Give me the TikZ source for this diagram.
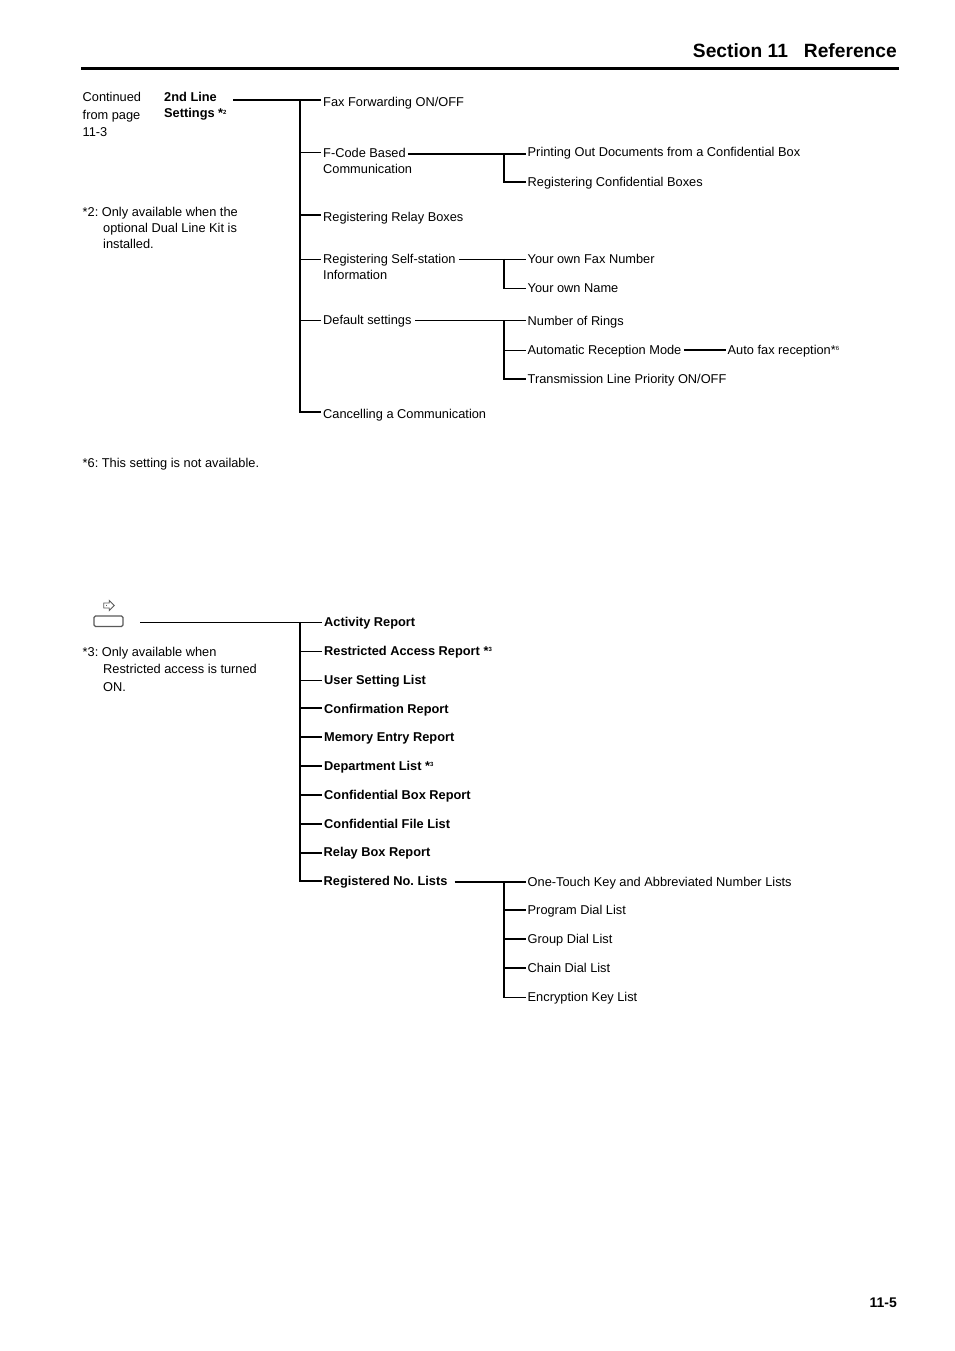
\documentclass[tikz,border=0pt]{standalone}
\usepackage{fontspec}
\setmainfont{Liberation Sans}
\frenchspacing
\tikzset{
  x=1pt,y=-1pt,
  lab/.style={anchor=base west,inner ysep=0pt,inner xsep=2pt,font=\fontsize{12.8}{16}\selectfont,text=black},
  labb/.style={lab,font=\fontsize{12.8}{16}\selectfont\bfseries},
  free/.style={anchor=base west,inner sep=0pt,font=\fontsize{12.8}{16}\selectfont,align=left,text=black},
  thinl/.style={line width=1pt,black},
  thickl/.style={line width=2pt,black},
  spine/.style={line width=2pt,black,shorten <=-.5pt,shorten >=-.9pt},
}
\newcommand{\nt}[1]{*{\fontsize{6}{6}\selectfont\raisebox{3.2pt}{#1}}}
\begin{document}
\begin{tikzpicture}
\useasboundingbox (0,0) rectangle (954,1351);
% header
\node[free,font=\fontsize{19.2}{22}\selectfont\bfseries,anchor=base east] (title) at (897,57.5) {Section 11\hspace{16pt}Reference};
\coordinate (ruleL) at (81,68.3); \coordinate (ruleR) at (899,68.3);
\draw[line width=3pt] (ruleL) -- (ruleR);
\node[free,font=\fontsize{14}{16}\selectfont\bfseries,anchor=base east] (pageno) at (897,1307) {11-5};

% left notes
\node[free] (c1) at (82.5,101.5) {Continued};
\node[free] (c2) at (82.5,119.5) {from page};
\node[free] (c3) at (82.5,137) {11-3};
\node[labb,inner xsep=0pt] (r1a) at (164,101.5) {2nd Line};
\node[labb,inner xsep=0pt] (r1b) at (164,117.5) {Settings \nt{2}};
\node[free] (n2a) at (82.5,216) {*2: Only available when the};
\node[free] (n2b) at (103,232) {optional Dual Line Kit is};
\node[free] (n2c) at (103,248) {installed.};
\node[free] (n6) at (82.5,467) {*6: This setting is not available.};
\node[free] (n3a) at (82.5,656) {*3: Only available when};
\node[free] (n3b) at (103,673) {Restricted access is turned};
\node[free] (n3c) at (103,691) {ON.};

% level 2, upper tree
\node[lab] (a1) at (321,107) {Fax Forwarding ON/OFF};
\node[lab] (a2) at (321,157.5) {F-Code Based};
\node[lab] (a2b) at (321,173.5) {Communication};
\node[lab] (a3) at (321,221) {Registering Relay Boxes};
\node[lab] (a4) at (321,263) {Registering Self-station};
\node[lab] (a4b) at (321,279) {Information};
\node[lab] (a5) at (321,324) {Default settings};
\node[lab] (a6) at (321,418) {Cancelling a Communication};
% level 3, upper tree
\node[lab] (b1) at (525.5,157) {Printing Out Documents from a Confidential Box};
\node[lab] (b2) at (525.5,186.5) {Registering Confidential Boxes};
\node[lab] (b3) at (525.5,263) {Your own Fax Number};
\node[lab] (b4) at (525.5,292) {Your own Name};
\node[lab] (b5) at (525.5,325) {Number of Rings};
\node[lab] (b6) at (525.5,354) {Automatic Reception Mode};
\node[lab] (b7) at (525.5,383) {Transmission Line Priority ON/OFF};
\node[lab] (b8) at (725.5,354) {Auto fax reception\nt{6}};

% upper tree connectors
\coordinate (s1) at (299.5,100);
\coordinate (s2) at (299.5,153);
\coordinate (s3) at (299.5,215);
\coordinate (s4) at (299.5,259);
\coordinate (s5) at (299.5,320);
\coordinate (s6) at (299.5,412);
\coordinate (r1) at (233,100);
\draw[thickl] (r1) -- (s1) -- (s1 -| a1.west);
\draw[spine] (s1) -- (s6);
\draw[thinl] (s2) -- (s2 -| a2.west);
\draw[thickl] (s3) -- (s3 -| a3.west);
\draw[thinl] (s4) -- (s4 -| a4.west);
\draw[thinl] (s5) -- (s5 -| a5.west);
\draw[thickl] (s6) -- (s6 -| a6.west);
% F-code
\coordinate (u1) at (503.5,154); \coordinate (u2) at (503.5,182);
\draw[thickl] (u1 -| a2.east) -- (u1 -| b1.west);
\draw[spine] (u1) -- (u2);
\draw[thickl] (u2) -- (u2 -| b2.west);
% self station
\coordinate (u3) at (503.5,259.3); \coordinate (u4) at (503.5,288);
\draw[thinl] ([xshift=1.5pt]u3 -| a4.east) -- (u3 -| b3.west);
\draw[spine] (u3) -- (u4);
\draw[thinl] (u4) -- (u4 -| b4.west);
% default
\coordinate (u5) at (503.5,320.5); \coordinate (u6) at (503.5,350); \coordinate (u7) at (503.5,379);
\draw[thinl] ([xshift=1.5pt]u5 -| a5.east) -- (u5 -| b5.west);
\draw[spine] (u5) -- (u7);
\draw[thinl] (u6) -- (u6 -| b6.west);
\draw[thickl] (u7) -- (u7 -| b7.west);
\draw[thickl] (b6.east |- u6) -- (b8.west |- u6);

% icon
\node[draw=black!65,rounded corners=1.5pt,line width=1.3pt,minimum width=29pt,minimum height=10.5pt,inner sep=0pt] (key) at (108.5,621.3) {};
\node[inner sep=0pt,minimum size=0pt] (arrowicon) at (109,605.5) {\tikz[x=1pt,y=-1pt,line width=.9pt,draw=black!65]{\draw (0,-2.5) -- (5.5,-2.5) -- (5.5,-5) -- (10.5,0) -- (5.5,5) -- (5.5,2.5) -- (0,2.5) -- cycle; \draw (2.5,-.8) -- (2.5,.8);}};

% lower tree labels
\node[labb] (c01) at (322,626) {Activity Report};
\node[labb] (c02) at (322,655) {Restricted Access Report \nt{3}};
\node[labb] (c03) at (322,684) {User Setting List};
\node[labb] (c04) at (322,713) {Confirmation Report};
\node[labb] (c05) at (322,741) {Memory Entry Report};
\node[labb] (c06) at (322,770) {Department List \nt{3}};
\node[labb] (c07) at (322,799) {Confidential Box Report};
\node[labb] (c08) at (322,828) {Confidential File List};
\node[labb] (c09) at (321.5,856) {Relay Box Report};
\node[labb] (c10) at (321.5,885) {Registered No. Lists};
\node[lab] (d1) at (525.5,886) {One-Touch Key and Abbreviated Number Lists};
\node[lab] (d2) at (525.5,914) {Program Dial List};
\node[lab] (d3) at (525.5,943) {Group Dial List};
\node[lab] (d4) at (525.5,972) {Chain Dial List};
\node[lab] (d5) at (525.5,1001) {Encryption Key List};

% lower tree connectors
\coordinate (k0) at (140,622.3);
\coordinate (t01) at (299.5,622.3);
\coordinate (t02) at (299.5,651);
\coordinate (t03) at (299.5,680);
\coordinate (t04) at (299.5,708);
\coordinate (t05) at (299.5,737);
\coordinate (t06) at (299.5,766);
\coordinate (t07) at (299.5,795);
\coordinate (t08) at (299.5,824);
\coordinate (t09) at (299.5,853);
\coordinate (t10) at (299.5,881);
\draw[thinl] (k0) -- (t01) -- (t01 -| c01.west);
\draw[spine] (t01) -- (t10);
\draw[thinl] (t02) -- (t02 -| c02.west);
\draw[thinl] (t03) -- (t03 -| c03.west);
\draw[thickl] (t04) -- (t04 -| c04.west);
\draw[thickl] (t05) -- (t05 -| c05.west);
\draw[thickl] (t06) -- (t06 -| c06.west);
\draw[thickl] (t07) -- (t07 -| c07.west);
\draw[thickl] (t08) -- (t08 -| c08.west);
\draw[thickl] (t09) -- (t09 -| c09.west);
\draw[thickl] (t10) -- (t10 -| c10.west);
\coordinate (v1) at (503.5,882); \coordinate (v2) at (503.5,910); \coordinate (v3) at (503.5,939);
\coordinate (v4) at (503.5,968); \coordinate (v5) at (503.5,997);
\draw[thickl] ([xshift=5pt]v1 -| c10.east) -- (v1 -| d1.west);
\draw[spine] (v1) -- (v5);
\draw[thickl] (v2) -- (v2 -| d2.west);
\draw[thickl] (v3) -- (v3 -| d3.west);
\draw[thickl] (v4) -- (v4 -| d4.west);
\draw[thinl] (v5) -- (v5 -| d5.west);
\end{tikzpicture}
\end{document}
